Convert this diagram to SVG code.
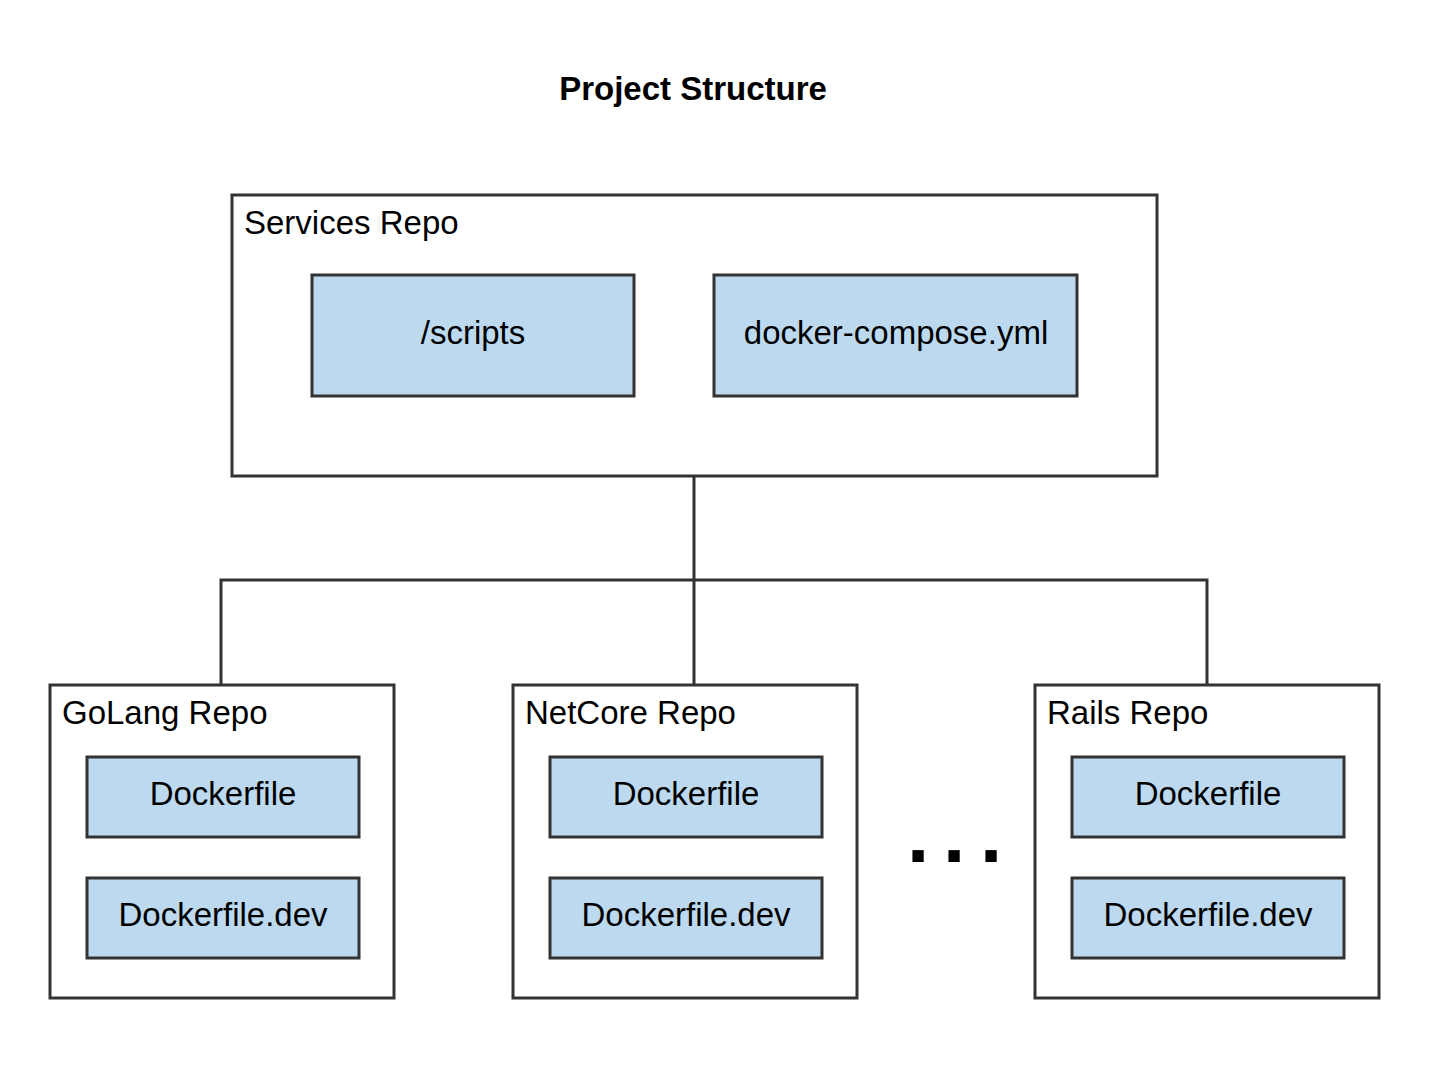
<svg xmlns="http://www.w3.org/2000/svg" width="1443" height="1075" viewBox="0 0 1443 1075">
<style>
.c{fill:#fff;stroke:#333;stroke-width:3}
.b{fill:#bcd9ef;stroke:#333;stroke-width:3}
text{font-family:"Liberation Sans",Arial,sans-serif;fill:#000}
.l{font-size:33px}
.m{font-size:33px;text-anchor:middle}
.w{fill:none;stroke:#333;stroke-width:3}
</style>
<rect width="1443" height="1075" fill="#fff"/>
<text x="693" y="100" font-size="33" font-weight="bold" text-anchor="middle">Project Structure</text>
<g id="connectors">
<path class="w" d="M694 476V685M221 685V580H1207V685"/>
</g>
<g id="services">
<rect class="c" x="232" y="195" width="925" height="281"/>
<text class="l" x="244" y="234">Services Repo</text>
</g>
<g id="scripts"><rect class="b" x="312" y="275" width="322" height="121"/><text class="m" x="473" y="344">/scripts</text></g>
<g id="compose"><rect class="b" x="714" y="275" width="363" height="121"/><text class="m" x="896" y="344">docker-compose.yml</text></g>
<g id="golang">
<rect class="c" x="50" y="685" width="344" height="313"/>
<text class="l" x="62" y="724">GoLang Repo</text>
<rect class="b" x="87" y="757" width="272" height="80"/><text class="m" x="223" y="805">Dockerfile</text>
<rect class="b" x="87" y="878" width="272" height="80"/><text class="m" x="223" y="926">Dockerfile.dev</text>
</g>
<g id="netcore">
<rect class="c" x="513" y="685" width="344" height="313"/>
<text class="l" x="525" y="724">NetCore Repo</text>
<rect class="b" x="550" y="757" width="272" height="80"/><text class="m" x="686" y="805">Dockerfile</text>
<rect class="b" x="550" y="878" width="272" height="80"/><text class="m" x="686" y="926">Dockerfile.dev</text>
</g>
<g id="rails">
<rect class="c" x="1035" y="685" width="344" height="313"/>
<text class="l" x="1047" y="724">Rails Repo</text>
<rect class="b" x="1072" y="757" width="272" height="80"/><text class="m" x="1208" y="805">Dockerfile</text>
<rect class="b" x="1072" y="878" width="272" height="80"/><text class="m" x="1208" y="926">Dockerfile.dev</text>
</g>
<g id="ellipsis"><text font-size="80" font-weight="bold" x="907 943 980" y="862">...</text></g>
</svg>
